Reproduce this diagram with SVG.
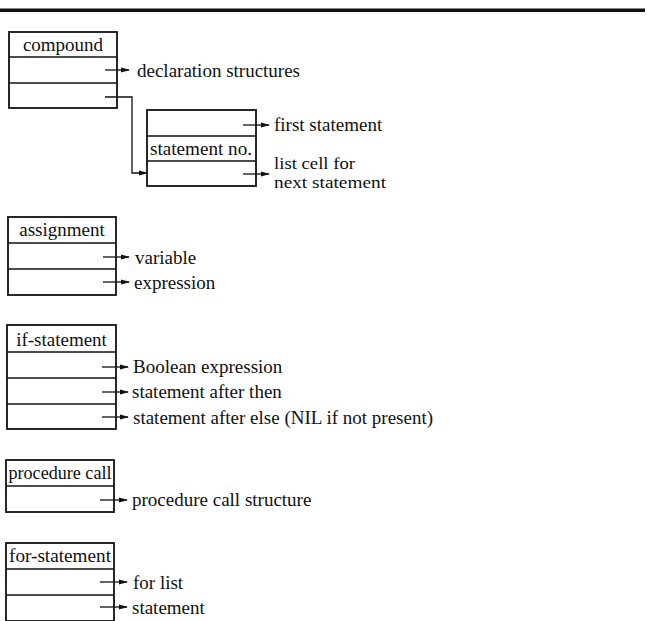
<svg xmlns="http://www.w3.org/2000/svg" width="647" height="621" viewBox="0 0 647 621">
<style>
.box{fill:none;stroke:#111;stroke-width:1.8}
.div{stroke:#111;stroke-width:1.5}
.t{font-family:"Liberation Serif","Times New Roman",serif;font-size:19px;fill:#111}
.c{text-anchor:middle}
.arr{fill:none;stroke:#111;stroke-width:1.3}
</style>
<defs>
<marker id="ah" markerWidth="9" markerHeight="6" refX="8" refY="3" orient="auto" markerUnits="userSpaceOnUse">
<path d="M0,0.5 L9,3 L0,5.5 Z" fill="#111"/>
</marker>
</defs>
<rect x="0" y="8.5" width="645" height="3.5" fill="#111"/>

<g id="compound">
<rect class="box" x="9" y="32" width="108" height="76"/>
<line class="div" x1="9" y1="57" x2="117" y2="57"/>
<line class="div" x1="9" y1="83" x2="117" y2="83"/>
<text class="t c" x="63" y="51">compound</text>
<text class="t" x="137" y="77">declaration structures</text>
</g>

<g id="stmtlist">
<rect class="box" x="147" y="110" width="109" height="76"/>
<line class="div" x1="147" y1="136" x2="256" y2="136"/>
<line class="div" x1="147" y1="161" x2="256" y2="161"/>
<text class="t" x="150" y="155" textLength="102" lengthAdjust="spacingAndGlyphs">statement no.</text>
<text class="t" x="274" y="131">first statement</text>
<text class="t" x="274" y="169" style="font-size:17px" textLength="81" lengthAdjust="spacingAndGlyphs">list cell for</text>
<text class="t" x="274" y="188" style="font-size:17px" textLength="112" lengthAdjust="spacingAndGlyphs">next statement</text>
</g>

<g id="assignment">
<rect class="box" x="8" y="217" width="108" height="78"/>
<line class="div" x1="8" y1="243" x2="116" y2="243"/>
<line class="div" x1="8" y1="269" x2="116" y2="269"/>
<text class="t c" x="62" y="236">assignment</text>
<text class="t" x="135" y="264">variable</text>
<text class="t" x="134" y="289">expression</text>
</g>

<g id="if-statement">
<rect class="box" x="7" y="325" width="109" height="104"/>
<line class="div" x1="7" y1="352" x2="116" y2="352"/>
<line class="div" x1="7" y1="378" x2="116" y2="378"/>
<line class="div" x1="7" y1="404" x2="116" y2="404"/>
<text class="t c" x="61.5" y="346">if-statement</text>
<text class="t" x="133" y="373">Boolean expression</text>
<text class="t" x="132" y="398">statement after then</text>
<text class="t" x="133" y="424">statement after else (NIL if not present)</text>
</g>

<g id="procedure-call">
<rect class="box" x="6" y="460" width="108" height="52"/>
<line class="div" x1="6" y1="486" x2="114" y2="486"/>
<text class="t" x="8.5" y="479" textLength="103" lengthAdjust="spacingAndGlyphs">procedure call</text>
<text class="t" x="132" y="506">procedure call structure</text>
</g>

<g id="for-statement">
<rect class="box" x="6" y="543" width="108" height="78"/>
<line class="div" x1="6" y1="569" x2="114" y2="569"/>
<line class="div" x1="6" y1="595" x2="114" y2="595"/>
<text class="t" x="9" y="562" textLength="102" lengthAdjust="spacingAndGlyphs">for-statement</text>
<text class="t" x="133" y="589">for list</text>
<text class="t" x="132" y="614">statement</text>
</g>

<g id="connectors">
<line class="arr" x1="105" y1="70" x2="129" y2="70" marker-end="url(#ah)"/>
<path class="arr" d="M105,97 H132 V173 H147" marker-end="url(#ah)"/>
<line class="arr" x1="243" y1="125" x2="269" y2="125" marker-end="url(#ah)"/>
<line class="arr" x1="243" y1="174" x2="269" y2="174" marker-end="url(#ah)"/>
<line class="arr" x1="103" y1="257" x2="129" y2="257" marker-end="url(#ah)"/>
<line class="arr" x1="103" y1="282" x2="129" y2="282" marker-end="url(#ah)"/>
<line class="arr" x1="102" y1="367" x2="128" y2="367" marker-end="url(#ah)"/>
<line class="arr" x1="102" y1="392" x2="128" y2="392" marker-end="url(#ah)"/>
<line class="arr" x1="102" y1="417" x2="128" y2="417" marker-end="url(#ah)"/>
<line class="arr" x1="100" y1="500" x2="127" y2="500" marker-end="url(#ah)"/>
<line class="arr" x1="100" y1="582" x2="127" y2="582" marker-end="url(#ah)"/>
<line class="arr" x1="100" y1="607" x2="127" y2="607" marker-end="url(#ah)"/>
</g>
</svg>
